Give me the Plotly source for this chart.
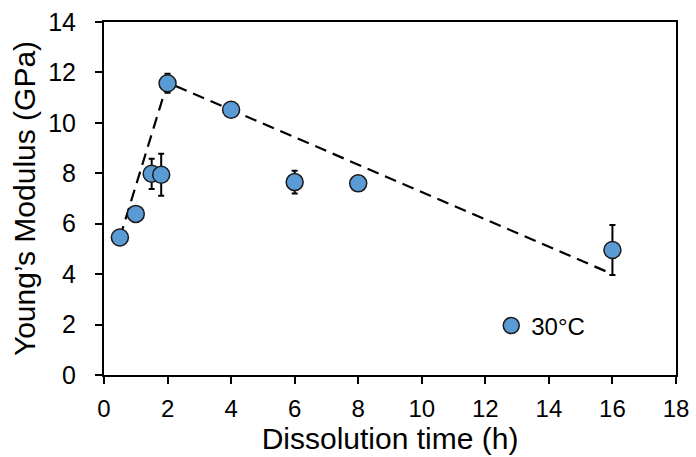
import plotly.graph_objects as go

time_h = [0.5, 1.0, 1.5, 1.8, 2.0, 4.0, 6.0, 8.0, 16.0]
modulus = [5.45, 6.39, 7.98, 7.94, 11.57, 10.52, 7.65, 7.6, 4.96]
modulus_err = [0.15, 0.15, 0.6, 0.83, 0.38, 0.15, 0.45, 0.15, 0.99]

trend_x = [0.5, 2.0, 16.0]
trend_y = [5.45, 11.6, 4.0]

FONT = "Liberation Sans, Arial, sans-serif"
fill = "#5B9BD5"

fig = go.Figure()
fig.add_trace(go.Scatter(
    x=trend_x, y=trend_y, mode="lines",
    line=dict(color="black", width=2.2, dash="12px,7px"),
    showlegend=False, hoverinfo="skip"))
fig.add_trace(go.Scatter(
    x=time_h, y=modulus, mode="markers",
    marker=dict(size=17, color=fill, line=dict(color="#1a1a1a", width=1.5)),
    error_y=dict(type="data", array=modulus_err, visible=True,
                 color="black", thickness=2, width=3),
    showlegend=False))
fig.add_trace(go.Scatter(
    x=[None], y=[None], mode="markers", name="30°C",
    marker=dict(size=16, color=fill, line=dict(color="#1a1a1a", width=1.5))))

fig.update_layout(
    width=696, height=457,
    margin=dict(l=104, r=20, t=22, b=82),
    paper_bgcolor="white", plot_bgcolor="white",
    font=dict(family=FONT, size=25, color="black"),
    legend=dict(x=0.677, y=0.139, xanchor="left", yanchor="middle",
                bgcolor="rgba(0,0,0,0)", font=dict(size=24),
                itemwidth=30),
)
fig.update_xaxes(
    range=[0, 18], tickmode="array", tickvals=list(range(0, 19, 2)),
    showgrid=False, zeroline=False, automargin=False,
    showline=True, linecolor="black", linewidth=2, mirror=True,
    ticks="outside", ticklen=7, tickwidth=2, tickcolor="black",
    tickfont=dict(size=24), ticklabelstandoff=4,
    title=dict(text="Dissolution time (h)", font=dict(size=30), standoff=6))
fig.update_yaxes(
    range=[0, 14], tickmode="array", tickvals=list(range(0, 15, 2)),
    showgrid=False, zeroline=False, automargin=False,
    showline=True, linecolor="black", linewidth=2, mirror=True,
    ticks="outside", ticklen=7, tickwidth=2, tickcolor="black",
    tickfont=dict(size=25), ticklabelstandoff=14,
    title=dict(text="Young’s Modulus (GPa)", font=dict(size=30), standoff=4))

fig.write_html("out.html")
